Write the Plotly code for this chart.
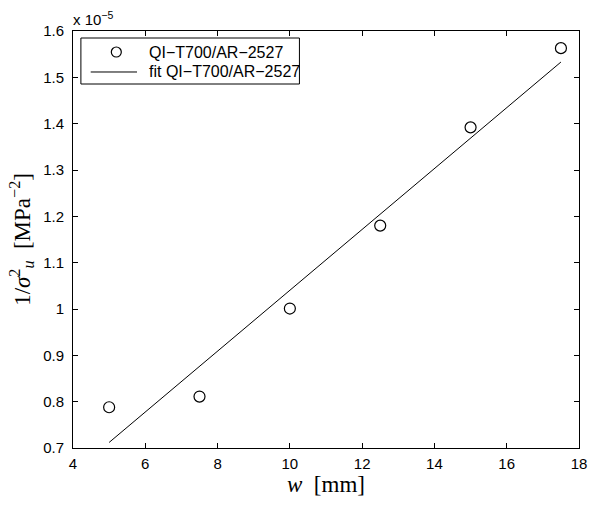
import plotly.graph_objects as go

# data (values in units of 1e-5 MPa^-2)
w_mm = [5, 7.5, 10, 12.5, 15, 17.5]
inv_sigma2 = [0.788, 0.811, 1.001, 1.180, 1.392, 1.563]
fit_w = [5, 17.5]
fit_vals = [0.712, 1.533]

x_ticks = [4, 6, 8, 10, 12, 14, 16, 18]
y_ticks = [0.7, 0.8, 0.9, 1.0, 1.1, 1.2, 1.3, 1.4, 1.5, 1.6]
y_ticktext = ["0.7", "0.8", "0.9", "1", "1.1", "1.2", "1.3", "1.4", "1.5", "1.6"]
series_names = ["QI\u2212T700/AR\u22122527", "fit QI\u2212T700/AR\u22122527"]

fig = go.Figure()
fig.add_trace(go.Scatter(
    x=w_mm, y=inv_sigma2, mode="markers", name=series_names[0], showlegend=False,
    marker=dict(symbol="circle-open", size=11, color="black", line=dict(width=1.2)),
))
fig.add_trace(go.Scatter(
    x=fit_w, y=fit_vals, mode="lines", name=series_names[1], showlegend=False,
    line=dict(color="black", width=1),
))

axis_common = dict(
    showline=True, linecolor="black", linewidth=1, mirror="ticks",
    ticks="inside", ticklen=5, tickcolor="black", showgrid=False, zeroline=False,
    tickfont=dict(family="Liberation Sans, Arial", size=15, color="black"),
)
fig.update_xaxes(range=[4, 18], tickvals=x_ticks, ticklabelstandoff=2, **axis_common,
                 title=dict(text="<i>w</i>  [mm]", standoff=2,
                            font=dict(family="Liberation Serif, serif", size=23, color="black")))
fig.update_yaxes(range=[0.7, 1.6], tickvals=y_ticks, ticktext=y_ticktext, ticklabelstandoff=5, **axis_common,
                 title=dict(text="1/<i>σ</i><sup>2</sup><sub><i>u</i></sub>  [MPa<sup>−2</sup>]", standoff=6,
                            font=dict(family="Liberation Serif, serif", size=23, color="black")))

fig.add_annotation(x=0, y=1, xref="paper", yref="paper", xanchor="left", yanchor="bottom",
                   text="x 10<sup>−5</sup>", showarrow=False, yshift=1, xshift=-2,
                   font=dict(family="Liberation Sans, Arial", size=15, color="black"))

# custom legend box (MATLAB style), positioned in plot-area (paper) coordinates
leg_font = dict(family="Liberation Sans, Arial", size=16, color="black")
fig.add_shape(type="rect", xref="paper", yref="paper", x0=0.0156, x1=0.4475, y0=0.8729, y1=0.9832,
              line=dict(color="black", width=1), fillcolor="white", layer="above")
fig.add_shape(type="circle", xref="paper", yref="paper", xsizemode="pixel", ysizemode="pixel",
              xanchor=0.0856, yanchor=0.9496, x0=-5, x1=5, y0=-5, y1=5,
              line=dict(color="black", width=1.2), layer="above")
fig.add_shape(type="line", xref="paper", yref="paper", x0=0.035, x1=0.1265, y0=0.9017, y1=0.9017,
              line=dict(color="black", width=1), layer="above")
for name, yy in zip(series_names, [0.9496, 0.9017]):
    fig.add_annotation(x=0.1459, y=yy, xref="paper", yref="paper", xanchor="left", yanchor="middle",
                       text=name, showarrow=False, font=leg_font)

fig.update_layout(
    width=597, height=506,
    margin=dict(l=73, r=10, t=31, b=58),
    paper_bgcolor="white", plot_bgcolor="white",
    showlegend=False,
)

fig.write_html("out.html", config={"displayModeBar": False},
               post_script="document.body.style.margin='0px';")
